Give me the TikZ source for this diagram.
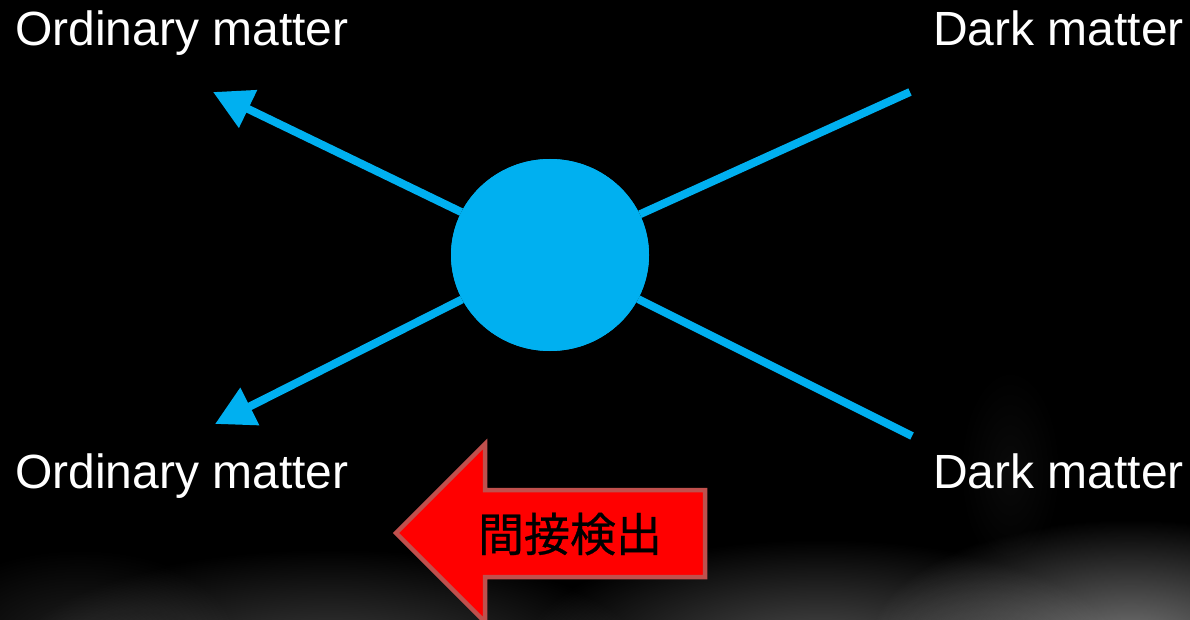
\documentclass[tikz,border=0pt]{standalone}
\usepackage{fontspec}
\setmainfont{Liberation Sans}
\newfontfamily\jpfont[FakeBold=0.6]{Noto Sans CJK JP}
\usetikzlibrary{arrows.meta,shapes.geometric,fadings}
\definecolor{dmblue}{HTML}{00B0F0}
\definecolor{arrred}{HTML}{FF0000}
\definecolor{arredge}{HTML}{C0504D}
\tikzfading[name=softfade, inner color=transparent!0, outer color=transparent!100]
\tikzset{
  lbl/.style={text=white,font=\fontsize{48}{50}\selectfont,inner sep=0pt,anchor=base west},
  leg/.style={draw=dmblue,line width=8pt},
  legarrow/.style={leg,-{Triangle[length=39pt,width=40pt]}},
  smoke/.style={fill=white,path fading=softfade},
  vertex/.style={ellipse,fill=dmblue,minimum width=198pt,minimum height=192pt,inner sep=0pt},
}
\begin{document}
\begin{tikzpicture}[x=1pt,y=-1pt]
\useasboundingbox (0,0) rectangle (1190,620);
\fill[black] (0,0) rectangle (1190,620);
% smoky background
\fill[smoke,opacity=0.45] (1130,640) ellipse [x radius=260, y radius=120];
\fill[smoke,opacity=0.30] (820,650) ellipse [x radius=300, y radius=110];
\fill[smoke,opacity=0.25] (330,660) ellipse [x radius=320, y radius=110];
\fill[smoke,opacity=0.12] (80,640) ellipse [x radius=160, y radius=90];
\fill[smoke,opacity=0.04] (1010,470) ellipse [x radius=50, y radius=100];

% labels
\node[lbl] (om1) at (15,46) {Ordinary matter};
\node[lbl] (om2) at (15,488) {Ordinary matter};
\node[lbl] (dm1) at (933,46) {Dark matter};
\node[lbl] (dm2) at (933,488) {Dark matter};

% end points
\coordinate (ul) at (213,92);
\coordinate (ll) at (215,424);
\coordinate (ur) at (910,92);
\coordinate (lr) at (912,436);

% vertex
\node[vertex] (v) at (550,255) {};
\draw[legarrow] (v) -- (ul);
\draw[legarrow] (v) -- (ll);
\draw[leg] (v) -- (ur);
\draw[leg] (v) -- (lr);
\node[vertex] (vtop) at (550,255) {};

% indirect detection arrow
\draw[fill=arrred,draw=arredge,line width=4.5pt,line join=miter]
  (396,533) -- (485,444) -- (485,490) -- (705,490) -- (705,577) -- (485,577) -- (485,622) -- cycle;
\node[text=black,font=\jpfont\fontsize{46}{48}\selectfont,inner sep=0pt] (det) at (570,534) {間接検出};
\end{tikzpicture}
\end{document}
